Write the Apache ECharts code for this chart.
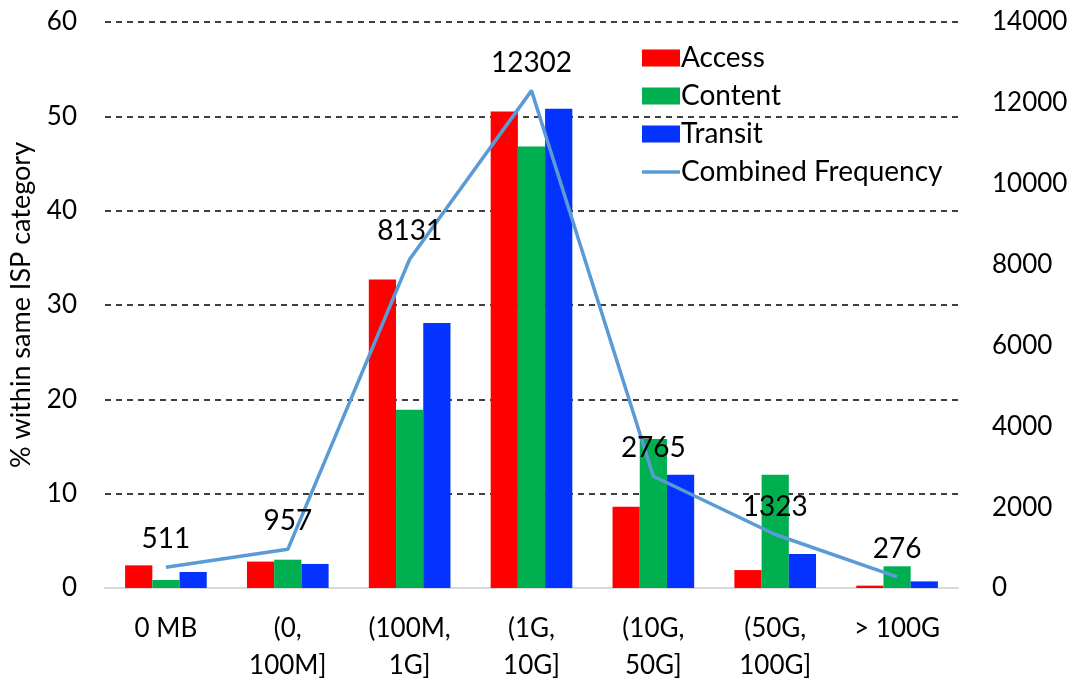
<!DOCTYPE html>
<html>
<head>
<meta charset="utf-8">
<script src="https://cdn.jsdelivr.net/npm/echarts@6/dist/echarts.min.js"></script>
<style>
  html, body { margin: 0; padding: 0; background: #fff; }
  #chart { width: 1076px; height: 686px; }
</style>
</head>
<body>
<div id="chart"></div>
<script>
// categories on the x axis
const categories = ['0 MB', '(0,\n100M]', '(100M,\n1G]', '(1G,\n10G]', '(10G,\n50G]', '(50G,\n100G]', '> 100G'];

// % within same ISP category
const accessValues = [2.4, 2.8, 32.7, 50.5, 8.6, 1.9, 0.25];
const contentValues = [0.85, 3.0, 18.9, 46.8, 15.8, 12.0, 2.3];
const transitValues = [1.7, 2.55, 28.1, 50.8, 12.0, 3.6, 0.7];

// combined frequency (right axis)
const combinedFrequency = [511, 957, 8131, 12302, 2765, 1323, 276];

const font = 'Lato, "Noto Sans", sans-serif';
const tickSize = 26;
const textSize = 28;

const chart = echarts.init(document.getElementById('chart'));

const barSeries = (name, data, color) => ({
  name: name,
  type: 'bar',
  yAxisIndex: 0,
  data: data,
  barGap: '0%',
  barCategoryGap: '33%',
  itemStyle: { color: color }
});

chart.setOption({
  animation: false,
  textStyle: { fontFamily: font },
  grid: { left: 105, right: 118, top: 22, bottom: 98 },
  legend: {
    orient: 'vertical',
    left: 637,
    top: 39,
    itemWidth: 38,
    itemHeight: 17,
    itemGap: 10,
    textStyle: { fontSize: textSize, color: '#000', fontFamily: font, padding: [0, 0, 0, -4] },
    data: [
      { name: 'Access', icon: 'rect' },
      { name: 'Content', icon: 'rect' },
      { name: 'Transit', icon: 'rect' },
      { name: 'Combined Frequency', icon: 'path://M0 0h38v3.5H0z' }
    ]
  },
  xAxis: {
    type: 'category',
    data: categories,
    axisTick: { show: false },
    axisLine: { lineStyle: { color: '#d9d9d9', width: 2 } },
    axisLabel: {
      interval: 0,
      color: '#000',
      fontSize: tickSize,
      lineHeight: 37,
      margin: 22,
      fontFamily: font
    }
  },
  yAxis: [
    {
      type: 'value',
      min: 0,
      max: 60,
      interval: 10,
      name: '% within same ISP category',
      nameLocation: 'middle',
      nameGap: 70,
      nameTextStyle: { fontSize: 27, color: '#000', fontFamily: font },
      axisLine: { show: false },
      axisTick: { show: false },
      axisLabel: { color: '#000', fontSize: tickSize, margin: 28, fontFamily: font },
      splitLine: { lineStyle: { color: '#000', type: [6, 5], width: 1.5 } }
    },
    {
      type: 'value',
      min: 0,
      max: 14000,
      interval: 2000,
      axisLine: { show: false },
      axisTick: { show: false },
      axisLabel: {
        color: '#000',
        fontSize: tickSize,
        margin: 34,
        fontFamily: font,
        formatter: v => String(v)
      },
      splitLine: { show: false }
    }
  ],
  series: [
    barSeries('Access', accessValues, '#ff0000'),
    barSeries('Content', contentValues, '#00b050'),
    barSeries('Transit', transitValues, '#0432ff'),
    {
      name: 'Combined Frequency',
      type: 'line',
      yAxisIndex: 1,
      data: combinedFrequency,
      symbol: 'circle',
      symbolSize: 0,
      showSymbol: true,
      lineStyle: { color: '#5b9bd5', width: 3.5 },
      itemStyle: { color: '#5b9bd5' },
      label: {
        show: true,
        position: 'top',
        distance: 14,
        color: '#000',
        fontSize: textSize,
        fontFamily: font
      },
      z: 5
    }
  ]
});
</script>
</body>
</html>
